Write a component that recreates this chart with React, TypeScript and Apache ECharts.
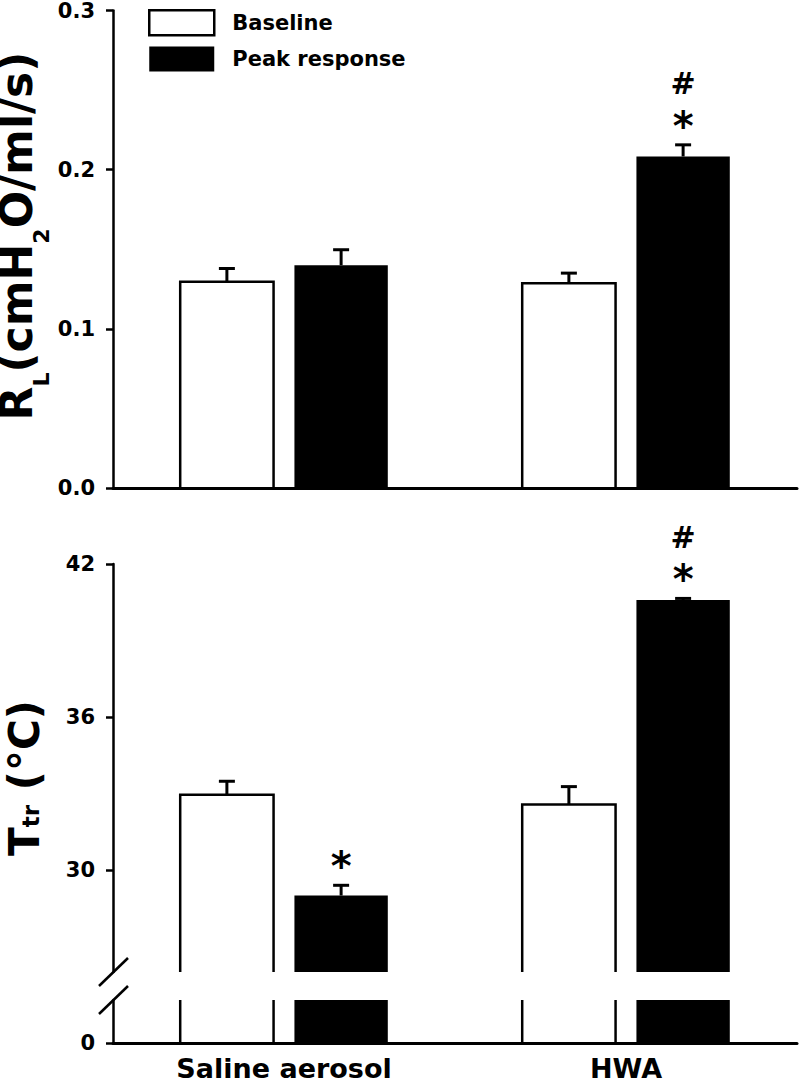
import React, { useEffect, useRef } from 'react';
import * as echarts from 'echarts';

const categories = ['Saline aerosol', 'HWA'];
const legendNames = ['Baseline', 'Peak response'];

// Panel A: lung resistance R_L (cmH2O/ml/s)
const rlBaseline = [0.1296, 0.1286];
const rlBaselineSem = [0.0083, 0.0064];
const rlPeak = [0.14, 0.2083];
const rlPeakSem = [0.0097, 0.0073];
const rlPeakMarks: string[][] = [[], ['*', '#']];
const rlTicks = [0, 0.1, 0.2, 0.3];

// Panel B: tracheal temperature T_tr (°C)
const ttrBaseline = [32.95, 32.57];
const ttrBaselineSem = [0.53, 0.7];
const ttrPeak = [29.0, 40.59];
const ttrPeakSem = [0.4, 0.06];
const ttrPeakMarks: string[][] = [['*'], ['*', '#']];
const ttrTicks = [30, 36, 42];
const ttrLowTicks = [0];

const FONT = 'DejaVu Sans';
const BAR_FRAC = 0.273;
const OFFSET = 0.167;

const rows = (mean: number[], sem: number[]) => mean.map((m, i) => [i, m, sem[i]]);

const makeRender = (offset: number, filled: boolean, marks: string[][]) => (params: any, api: any) => {
  const cs = params.coordSys;
  const i = api.value(0);
  const mean = api.value(1);
  const sem = api.value(2);
  const band = api.size([1, 0])[0];
  const p = api.coord([i, mean]);
  const cx = p[0] + offset * band;
  const w = BAR_FRAC * band;
  const l = cx - w / 2;
  const r = cx + w / 2;
  const bottom = cs.y + cs.height;
  const clamped = p[1] < cs.y;
  const top = clamped ? cs.y : p[1];
  const children: any[] = [];
  const stroke = { stroke: '#000', lineWidth: 2.5, fill: null };
  if (filled) {
    children.push({ type: 'rect', shape: { x: l, y: top, width: w, height: bottom - top }, style: { fill: '#000' } });
  } else if (clamped) {
    children.push({ type: 'line', shape: { x1: l, y1: top, x2: l, y2: bottom }, style: stroke });
    children.push({ type: 'line', shape: { x1: r, y1: top, x2: r, y2: bottom }, style: stroke });
  } else {
    children.push({ type: 'polyline', shape: { points: [[l, bottom], [l, top], [r, top], [r, bottom]] }, style: stroke });
  }
  if (!clamped) {
    const e = api.coord([i, mean + sem])[1];
    children.push({ type: 'line', shape: { x1: cx, y1: top, x2: cx, y2: e }, style: { stroke: '#000', lineWidth: 3 } });
    children.push({ type: 'line', shape: { x1: cx - 8, y1: e, x2: cx + 8, y2: e }, style: { stroke: '#000', lineWidth: 3 } });
    const m = marks[i] || [];
    m.forEach((t, k) => {
      const isStar = t === '*';
      children.push({
        type: 'text',
        x: cx,
        y: isStar ? (k === 0 ? e - 19 : e - 54) : e - 61,
        style: {
          text: t,
          fontSize: isStar ? 40 : 30,
          fontWeight: 'bold',
          fontFamily: FONT,
          fill: '#000',
          align: 'center',
          verticalAlign: 'middle',
        },
      });
    });
  }
  return { type: 'group', children };
};

const tickLabel = { fontSize: 21, fontWeight: 'bold', fontFamily: FONT, color: '#000', margin: 18 };
const axisLineStyle = { show: true, lineStyle: { color: '#000', width: 2.5 } };
const tickStyle = { show: true, length: 7, lineStyle: { color: '#000', width: 2.5 } };

export default function App() {
  const ref = useRef<HTMLDivElement>(null);
  useEffect(() => {
    if (!ref.current) return;
    const chart = echarts.init(ref.current, undefined, { renderer: 'svg' });
    const grids = [
      { left: 113, right: 3, top: 10, height: 478 },
      { left: 113, right: 3, top: 564, height: 408 },
      { left: 113, right: 3, top: 1000, height: 44 },
    ];
    const mk = (name: string, gi: number, data: any[], offset: number, filled: boolean, marks: string[][]) => ({
      type: 'custom',
      name,
      xAxisIndex: gi,
      yAxisIndex: gi,
      coordinateSystem: 'cartesian2d',
      encode: { x: 0, y: 1 },
      itemStyle: { color: filled ? '#000' : '#fff' },
      renderItem: makeRender(offset, filled, marks),
      data,
      z: 2,
    });
    const option: any = {
      animation: false,
      backgroundColor: '#fff',
      grid: grids,
      legend: {
        orient: 'vertical',
        left: 148,
        top: 9,
        padding: 0,
        icon: 'rect',
        itemWidth: 65,
        itemHeight: 25,
        itemGap: 10,
        selectedMode: false,
        data: [
          { name: legendNames[0], itemStyle: { color: '#fff', borderColor: '#000', borderWidth: 2.5 } },
          { name: legendNames[1], itemStyle: { color: '#000', borderWidth: 0 } },
        ],
        textStyle: { fontSize: 21, fontWeight: 'bold', fontFamily: FONT, color: '#000', padding: [0, 0, 0, 13] },
      },
      xAxis: [
        { gridIndex: 0, type: 'category', data: categories, axisLine: { lineStyle: { color: '#000', width: 3 } }, axisTick: { show: false }, axisLabel: { show: false }, z: 5 },
        { gridIndex: 1, type: 'category', data: categories, show: false },
        {
          gridIndex: 2, type: 'category', data: categories,
          axisLine: { lineStyle: { color: '#000', width: 3 } }, axisTick: { show: false },
          axisLabel: { show: true, interval: 0, fontSize: 27, fontWeight: 'bold', fontFamily: FONT, color: '#000', margin: 12 },
          z: 5,
        },
      ],
      yAxis: [
        {
          gridIndex: 0, type: 'value', min: 0, max: 0.3,
          axisLine: axisLineStyle,
          axisTick: { ...tickStyle, customValues: rlTicks },
          axisLabel: { ...tickLabel, customValues: rlTicks, formatter: (v: number) => v.toFixed(1) },
          splitLine: { show: false },
        },
        {
          gridIndex: 1, type: 'value', min: 26, max: 42,
          axisLine: axisLineStyle,
          axisTick: { ...tickStyle, customValues: ttrTicks },
          axisLabel: { ...tickLabel, customValues: ttrTicks },
          splitLine: { show: false },
        },
        {
          gridIndex: 2, type: 'value', min: 0, max: 1.75,
          axisLine: axisLineStyle,
          axisTick: { ...tickStyle, customValues: ttrLowTicks },
          axisLabel: { ...tickLabel, customValues: ttrLowTicks },
          splitLine: { show: false },
        },
      ],
      series: [
        mk(legendNames[0], 0, rows(rlBaseline, rlBaselineSem), -OFFSET, false, [[], []]),
        mk(legendNames[1], 0, rows(rlPeak, rlPeakSem), OFFSET, true, rlPeakMarks),
        mk(legendNames[0], 1, rows(ttrBaseline, ttrBaselineSem), -OFFSET, false, [[], []]),
        mk(legendNames[1], 1, rows(ttrPeak, ttrPeakSem), OFFSET, true, ttrPeakMarks),
        mk(legendNames[0], 2, rows(ttrBaseline, ttrBaselineSem), -OFFSET, false, [[], []]),
        mk(legendNames[1], 2, rows(ttrPeak, ttrPeakSem), OFFSET, true, [[], []]),
      ],
      graphic: [
        { type: 'line', shape: { x1: 99, y1: 986, x2: 128, y2: 958 }, style: { stroke: '#000', lineWidth: 2.5 } },
        { type: 'line', shape: { x1: 99, y1: 1014, x2: 128, y2: 986 }, style: { stroke: '#000', lineWidth: 2.5 } },
        {
          type: 'text', x: 7, y: 236, rotation: Math.PI / 2,
          style: {
            text: '{a|R}{l|L}{a|(cmH}{l|2}{a|O/ml/s)}',
            align: 'center', verticalAlign: 'top', fill: '#000',
            rich: {
              a: { fontSize: 44, fontWeight: 'bold', fontFamily: FONT, fill: '#000', lineHeight: 36, padding: [0, 0, 18, 0] },
              l: { fontSize: 22, fontWeight: 'bold', fontFamily: FONT, fill: '#000', lineHeight: 22, padding: [32, 0, 0, 0] },
            },
          },
        },
        {
          type: 'text', x: 7, y: 778, rotation: Math.PI / 2,
          style: {
            text: '{a|T}{t|tr}{a| (°C)}',
            align: 'center', verticalAlign: 'top', fill: '#000',
            rich: {
              a: { fontSize: 42, fontWeight: 'bold', fontFamily: FONT, fill: '#000', lineHeight: 34 },
              t: { fontSize: 23, fontWeight: 'bold', fontFamily: FONT, fill: '#000', lineHeight: 23, padding: [13, 0, 0, 0] },
            },
          },
        },
      ],
    };
    chart.setOption(option);
    return () => chart.dispose();
  }, []);
  return <div ref={ref} style={{ position: 'absolute', left: 0, top: 0, width: 800, height: 1082 }} />;
}
